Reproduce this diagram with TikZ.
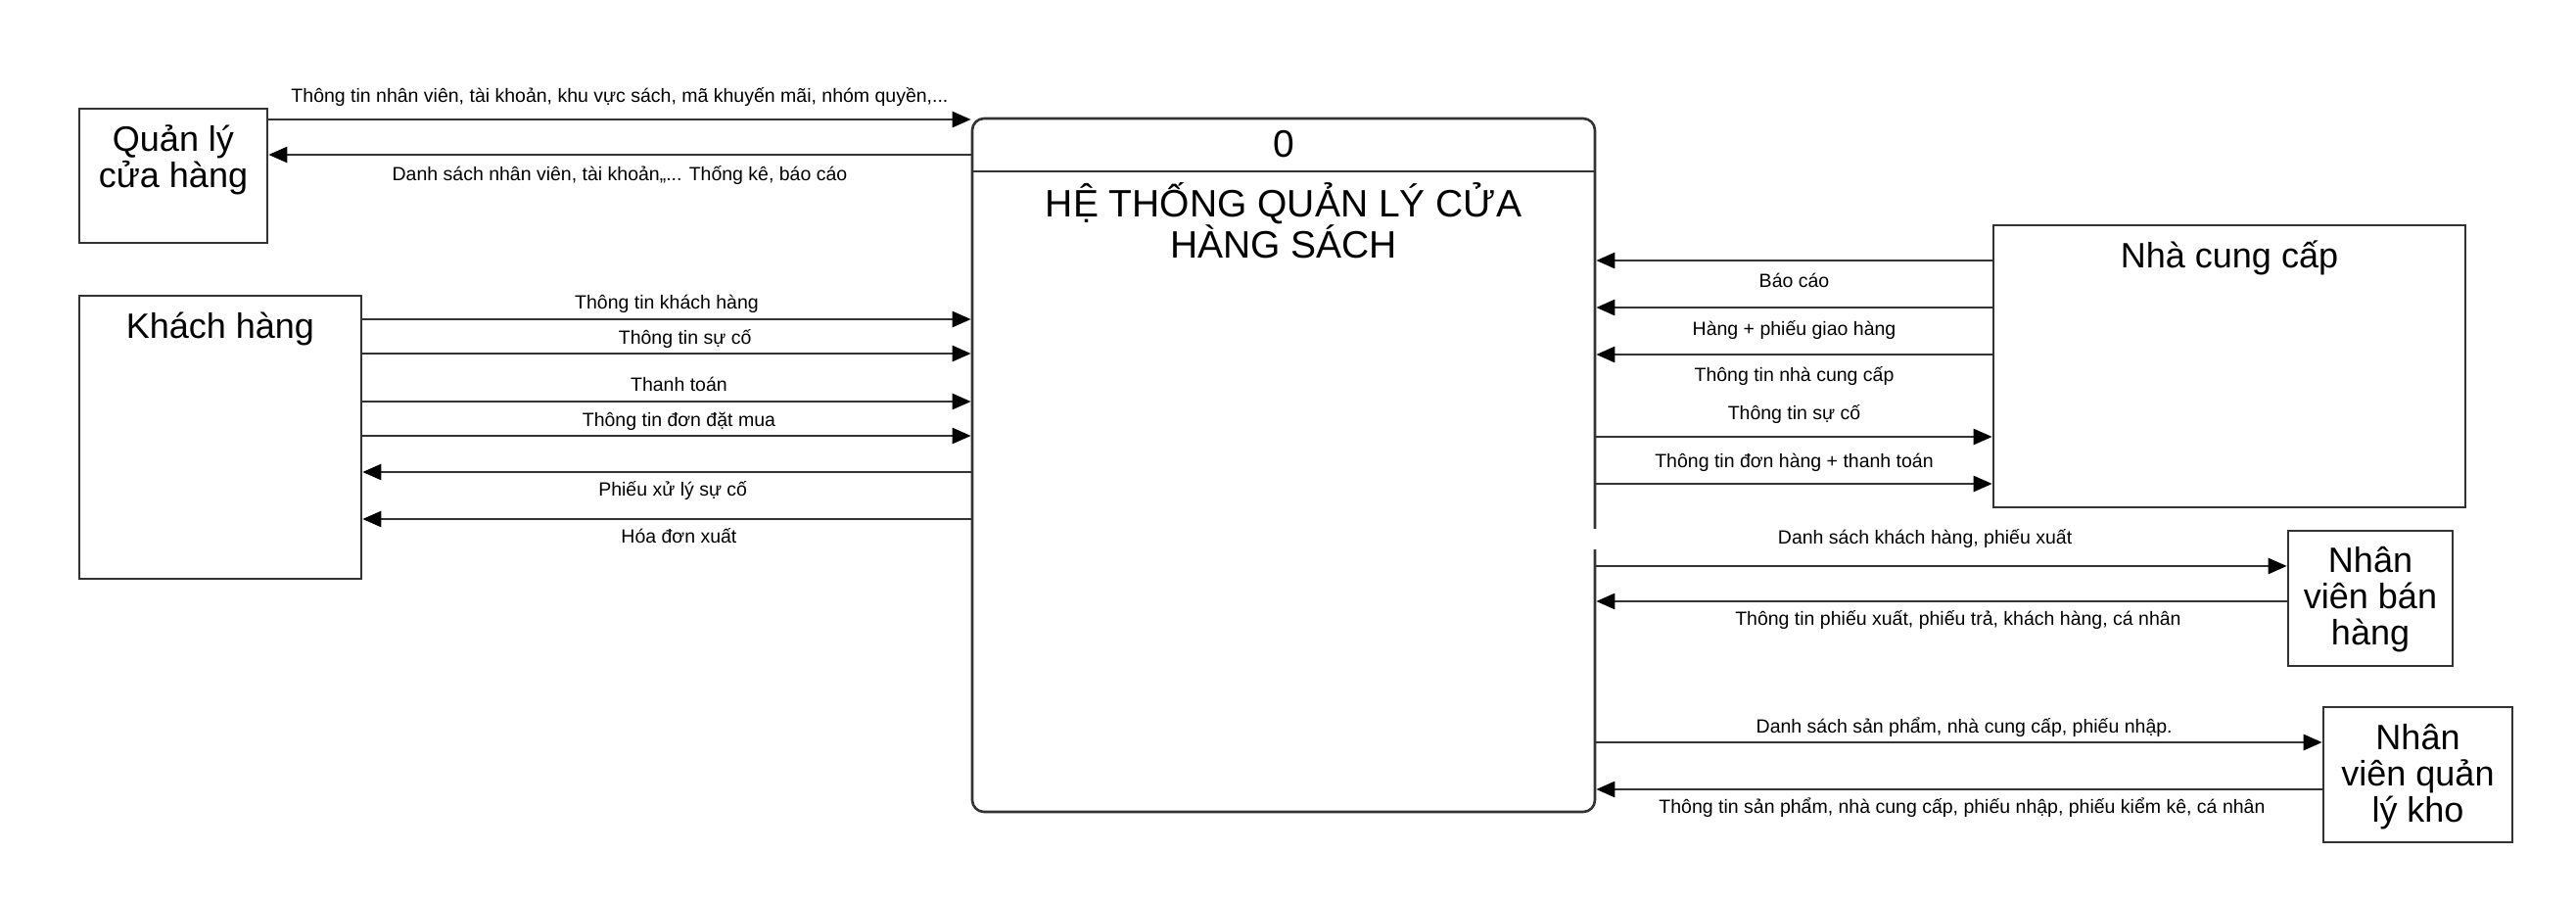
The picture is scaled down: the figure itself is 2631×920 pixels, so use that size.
\documentclass[tikz,border=0pt]{standalone}
\usepackage{fontspec}
\setmainfont{Liberation Sans}
\usetikzlibrary{arrows.meta}
\definecolor{linec}{HTML}{333333}
\begin{document}
\begin{tikzpicture}[x=1pt,y=-1pt,
  ent/.style={draw=linec, line width=2.6pt, fill=white, rectangle, inner sep=0pt},
  proc/.style={draw=linec, line width=2.6pt, fill=white, rectangle, rounded corners=12pt, inner sep=0pt},
  enttext/.style={font=\fontsize{36}{37}\selectfont, align=center, inner sep=0pt},
  proctext/.style={font=\fontsize{39}{37}\selectfont, align=center, inner sep=0pt},
  lab/.style={font=\fontsize{19.5}{22}\selectfont, inner sep=0pt, anchor=base, text=black},
  arr/.style={draw=linec, line width=2.6pt, -{Triangle[length=19pt,width=16pt,color=black]}},
  sep/.style={draw=linec, line width=2.2pt},
]
\fill[white] (0,0) rectangle (2631,920);
\useasboundingbox (0,0) rectangle (2631,920);

% boxes
\node[ent, minimum width=192pt, minimum height=137pt] (ql) at (177,179.5) {};
\node[ent, minimum width=288pt, minimum height=289pt] (kh) at (225,446.5) {};
\node[proc, minimum width=636pt, minimum height=708pt] (main) at (1311,475) {};
\node[ent, minimum width=482pt, minimum height=288pt] (ncc) at (2277,374) {};
\node[ent, minimum width=168pt, minimum height=138pt] (nvbh) at (2421,611) {};
\node[ent, minimum width=193pt, minimum height=138pt] (nvk) at (2469.5,791) {};

\draw[sep] (main.west |- 0,175) -- (main.east |- 0,175);

% texts
\node[enttext] (qlt) at (177,163) {Quản lý\\cửa hàng};
\node[enttext] (kht) at (225,336) {Khách hàng};
\node[enttext] (ncct) at (2277,263) {Nhà cung cấp};
\node[enttext] (nvbht) at (2421,612) {Nhân\\viên bán\\hàng};
\node[enttext] (nvkt) at (2469.5,793) {Nhân\\viên quản\\lý kho};
\node[proctext] (pnum) at (1311,147) {0};
\node[proctext] (ptitle) at (1311,225) {HỆ THỐNG QUẢN LÝ CỬA\\HÀNG SÁCH};

% Quan ly cua hang
\draw[arr] (ql.east |- 0,122) -- (main.west |- 0,122)
  node[lab, midway, yshift=17pt] (l1) {Thông tin nhân viên, tài khoản, khu vực sách, mã khuyến mãi, nhóm quyền,...};
\draw[arr] (main.west |- 0,158) -- (ql.east |- 0,158)
  node[lab, midway, yshift=-27pt] (l2) {Danh sách nhân viên, tài khoản,,... Thống kê, báo cáo};

% Khach hang
\draw[arr] (kh.east |- 0,326) -- (main.west |- 0,326)
  node[lab, pos=0.50, yshift=11pt] (k1) {Thông tin khách hàng};
\draw[arr] (kh.east |- 0,361) -- (main.west |- 0,361)
  node[lab, pos=0.53, yshift=10pt] (k2) {Thông tin sự cố};
\draw[arr] (kh.east |- 0,410) -- (main.west |- 0,410)
  node[lab, pos=0.52, yshift=11pt] (k3) {Thanh toán};
\draw[arr] (kh.east |- 0,445) -- (main.west |- 0,445)
  node[lab, pos=0.52, yshift=10pt] (k4) {Thông tin đơn đặt mua};
\draw[arr] (main.west |- 0,482) -- (kh.east |- 0,482)
  node[lab, pos=0.49, yshift=-24pt] (k5) {Phiếu xử lý sự cố};
\draw[arr] (main.west |- 0,530) -- (kh.east |- 0,530)
  node[lab, pos=0.48, yshift=-24pt] (k6) {Hóa đơn xuất};

% Nha cung cap
\draw[arr] (ncc.west |- 0,266) -- (main.east |- 0,266)
  node[lab, midway, yshift=-27pt] (n1) {Báo cáo};
\draw[arr] (ncc.west |- 0,314) -- (main.east |- 0,314)
  node[lab, midway, yshift=-28pt] (n2) {Hàng + phiếu giao hàng};
\draw[arr] (ncc.west |- 0,362) -- (main.east |- 0,362)
  node[lab, midway, yshift=-27pt] (n3) {Thông tin nhà cung cấp};
\draw[arr] (main.east |- 0,446) -- (ncc.west |- 0,446)
  node[lab, midway, yshift=18pt] (n4) {Thông tin sự cố};
\draw[arr] (main.east |- 0,494) -- (ncc.west |- 0,494)
  node[lab, midway, yshift=17pt] (n5) {Thông tin đơn hàng + thanh toán};

% Nhan vien ban hang
\fill[white] (1618,540) rectangle (2334,561);
\draw[arr] (main.east |- 0,578) -- (nvbh.west |- 0,578)
  node[lab, pos=0.476, yshift=23pt] (b1) {Danh sách khách hàng, phiếu xuất};
\draw[arr] (nvbh.west |- 0,614) -- (main.east |- 0,614)
  node[lab, pos=0.476, yshift=-24pt] (b2) {Thông tin phiếu xuất, phiếu trả, khách hàng, cá nhân};

% Nhan vien quan ly kho
\draw[arr] (main.east |- 0,758) -- (nvk.west |- 0,758)
  node[lab, pos=0.507, yshift=10pt] (q1) {Danh sách sản phẩm, nhà cung cấp, phiếu nhập.};
\draw[arr] (nvk.west |- 0,806) -- (main.east |- 0,806)
  node[lab, pos=0.496, yshift=-24pt] (q2) {Thông tin sản phẩm, nhà cung cấp, phiếu nhập, phiếu kiểm kê, cá nhân};
\end{tikzpicture}
\end{document}
